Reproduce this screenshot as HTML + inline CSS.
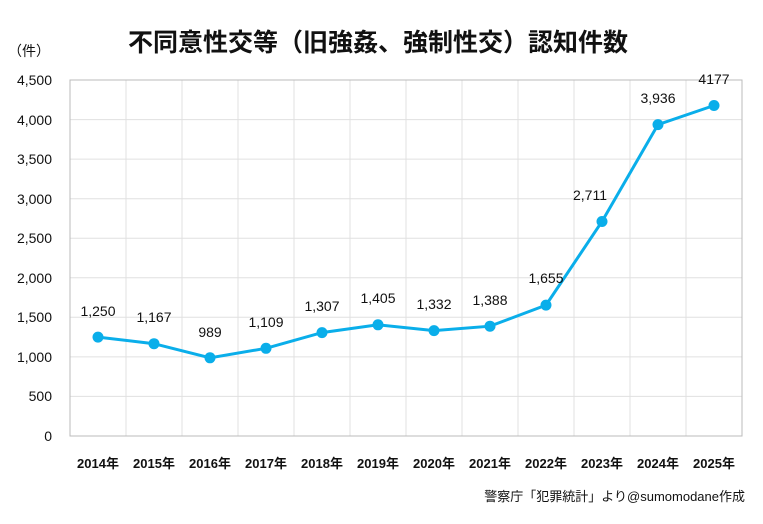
<!DOCTYPE html>
<html><head><meta charset="utf-8"><style>body{margin:0;background:#fff}svg{display:block}text{font-family:"Liberation Sans","Noto Sans CJK JP",sans-serif;fill:#111}</style></head><body>
<svg width="763" height="524" xmlns="http://www.w3.org/2000/svg">
<text x="378" y="51" font-size="25" font-weight="bold" text-anchor="middle">不同意性交等（旧強姦、強制性交）認知件数</text>
<text x="8" y="56" font-size="14">（件）</text>
<g stroke="#e0e0e0" stroke-width="1">
<line x1="70" y1="119.6" x2="742" y2="119.6"/><line x1="70" y1="159.1" x2="742" y2="159.1"/><line x1="70" y1="198.7" x2="742" y2="198.7"/><line x1="70" y1="238.2" x2="742" y2="238.2"/><line x1="70" y1="277.8" x2="742" y2="277.8"/><line x1="70" y1="317.3" x2="742" y2="317.3"/><line x1="70" y1="356.9" x2="742" y2="356.9"/><line x1="70" y1="396.4" x2="742" y2="396.4"/>
<line x1="126" y1="80" x2="126" y2="436"/><line x1="182" y1="80" x2="182" y2="436"/><line x1="238" y1="80" x2="238" y2="436"/><line x1="294" y1="80" x2="294" y2="436"/><line x1="350" y1="80" x2="350" y2="436"/><line x1="406" y1="80" x2="406" y2="436"/><line x1="462" y1="80" x2="462" y2="436"/><line x1="518" y1="80" x2="518" y2="436"/><line x1="574" y1="80" x2="574" y2="436"/><line x1="630" y1="80" x2="630" y2="436"/><line x1="686" y1="80" x2="686" y2="436"/>
</g>
<rect x="70" y="80" width="672" height="356" fill="none" stroke="#bbb"/>
<g font-size="14" text-anchor="end">
<text x="52" y="85">4,500</text><text x="52" y="125">4,000</text><text x="52" y="164">3,500</text><text x="52" y="204">3,000</text><text x="52" y="243">2,500</text><text x="52" y="283">2,000</text><text x="52" y="322">1,500</text><text x="52" y="362">1,000</text><text x="52" y="401">500</text><text x="52" y="441">0</text>
</g>
<g font-size="13" font-weight="bold" text-anchor="middle">
<text x="98" y="468">2014年</text><text x="154" y="468">2015年</text><text x="210" y="468">2016年</text><text x="266" y="468">2017年</text><text x="322" y="468">2018年</text><text x="378" y="468">2019年</text><text x="434" y="468">2020年</text><text x="490" y="468">2021年</text><text x="546" y="468">2022年</text><text x="602" y="468">2023年</text><text x="658" y="468">2024年</text><text x="714" y="468">2025年</text>
</g>
<polyline fill="none" stroke="#0aaeea" stroke-width="3" points="98,337.1 154,343.7 210,357.8 266,348.3 322,332.6 378,324.8 434,330.6 490,326.2 546,305.1 602,221.5 658,124.6 714,105.5"/>
<g fill="#0aaeea">
<circle cx="98" cy="337.1" r="5.5"/><circle cx="154" cy="343.7" r="5.5"/><circle cx="210" cy="357.8" r="5.5"/><circle cx="266" cy="348.3" r="5.5"/><circle cx="322" cy="332.6" r="5.5"/><circle cx="378" cy="324.8" r="5.5"/><circle cx="434" cy="330.6" r="5.5"/><circle cx="490" cy="326.2" r="5.5"/><circle cx="546" cy="305.1" r="5.5"/><circle cx="602" cy="221.5" r="5.5"/><circle cx="658" cy="124.6" r="5.5"/><circle cx="714" cy="105.5" r="5.5"/>
</g>
<g font-size="14" text-anchor="middle">
<text x="98" y="316">1,250</text><text x="154" y="322">1,167</text><text x="210" y="337">989</text><text x="266" y="327">1,109</text><text x="322" y="311">1,307</text><text x="378" y="303">1,405</text><text x="434" y="309">1,332</text><text x="490" y="305">1,388</text><text x="546" y="283">1,655</text><text x="590" y="200">2,711</text><text x="658" y="103">3,936</text><text x="714" y="84">4177</text>
</g>
<text x="745" y="501" font-size="13" text-anchor="end">警察庁「犯罪統計」より@sumomodane作成</text>
</svg>
</body></html>
